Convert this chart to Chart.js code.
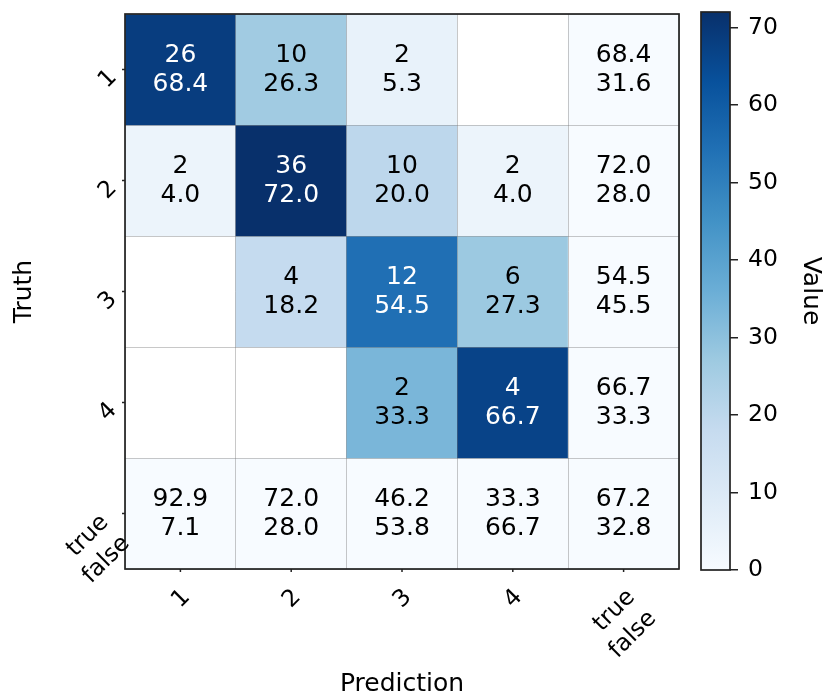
<!DOCTYPE html>
<html>
<head>
<meta charset="utf-8">
<script src="https://cdn.jsdelivr.net/npm/chart.js@4"></script>
<style>
  body { margin: 0; background: #fff; }
  #wrap { position: relative; width: 825px; height: 699px; }
  canvas { position: absolute; top: 0; }
  #matrixChart { left: 0; }
  #colorbarChart { left: 690px; }
</style>
</head>
<body>
<div id="wrap">
  <canvas id="matrixChart" width="825" height="699"></canvas>
  <canvas id="colorbarChart" width="135" height="699"></canvas>
</div>
<script>
// #### DATA ####
const predLabels = ['1', '2', '3', '4', ['true', 'false']];
const truthLabels = ['1', '2', '3', '4', ['true', 'false']];

// counts per truth row (null = empty cell)
const counts = [
    [26, 10, 2, null],
    [2, 36, 10, 2],
    [null, 4, 12, 6],
    [null, null, 2, 4]
];
// row percentages, also drive the colour
const rowPct = [
    [68.4, 26.3, 5.3, null],
    [4.0, 72.0, 20.0, 4.0],
    [null, 18.2, 54.5, 27.3],
    [null, null, 33.3, 66.7]
];
const rowTrueFalse = [[68.4, 31.6], [72.0, 28.0], [54.5, 45.5], [66.7, 33.3]];
const colTrueFalse = [[92.9, 7.1], [72.0, 28.0], [46.2, 53.8], [33.3, 66.7]];
const totalTrueFalse = [67.2, 32.8];

const cbRange = [0, 72];
const cbTicks = [0, 10, 20, 30, 40, 50, 60, 70];

// #### STYLE ####
const FONT = '"DejaVu Sans"';
const CELL_FONT = 25;
const TICK_FONT = 23.5;
const TITLE_FONT = 25;
const BLUES = ['#f7fbff', '#deebf7', '#c6dbef', '#9ecae1', '#6baed6', '#4292c6', '#2171b5', '#08519c', '#08306b'];

function hexRgb(h) {
    return [parseInt(h.slice(1, 3), 16), parseInt(h.slice(3, 5), 16), parseInt(h.slice(5, 7), 16)];
}

function blues(v) {
    let t = (v - cbRange[0]) / (cbRange[1] - cbRange[0]);
    t = Math.max(0, Math.min(1, t));
    let s = t * (BLUES.length - 1);
    let i = Math.min(Math.floor(s), BLUES.length - 2);
    let f = s - i;
    let a = hexRgb(BLUES[i]), b = hexRgb(BLUES[i + 1]);
    let c = a.map((x, k) => Math.round(x + (b[k] - x) * f));
    return `rgb(${c[0]},${c[1]},${c[2]})`;
}

// colour value of a cell: null = blank, summary cells sit at 0
let cellValue = (r, c) => {
    if (r < 4 && c < 4) return rowPct[r][c];
    return 0;
}

let cellLines = (r, c) => {
    if (r < 4 && c < 4) {
        if (counts[r][c] == null) return [];
        return [String(counts[r][c]), rowPct[r][c].toFixed(1)];
    }
    if (r < 4) return rowTrueFalse[r].map(v => v.toFixed(1));
    if (c < 4) return colTrueFalse[c].map(v => v.toFixed(1));
    return totalTrueFalse.map(v => v.toFixed(1));
}

// one dataset per truth row, each cell a floating bar [row, row+1]
let datasets = truthLabels.map((lab, r) => ({
    label: Array.isArray(lab) ? lab.join(' ') : lab,
    data: predLabels.map(() => [r, r + 1]),
    backgroundColor: predLabels.map((p, c) => {
        let v = cellValue(r, c);
        return v == null ? '#ffffff' : blues(v);
    }),
    borderWidth: 0,
    grouped: false,
    barPercentage: 1,
    categoryPercentage: 1
}));

// #### PLUGINS ####
const framePlugin = {
    id: 'frame',
    afterDraw(chart) {
        const {ctx, chartArea: a} = chart;
        ctx.save();
        ctx.strokeStyle = '#222';
        ctx.lineWidth = 1.7;
        ctx.strokeRect(a.left, a.top, a.right - a.left, a.bottom - a.top);
        ctx.restore();
    }
};

const cellTextPlugin = {
    id: 'cellText',
    afterDatasetsDraw(chart) {
        const {ctx} = chart;
        ctx.save();
        ctx.font = `${CELL_FONT}px ${FONT}`;
        ctx.textAlign = 'center';
        ctx.textBaseline = 'middle';
        chart.data.datasets.forEach((ds, r) => {
            chart.getDatasetMeta(r).data.forEach((el, c) => {
                let lines = cellLines(r, c);
                let v = cellValue(r, c);
                ctx.fillStyle = (v != null && v > (cbRange[1] / 2)) ? '#ffffff' : '#000000';
                let cy = (el.y + el.base) / 2;
                lines.forEach((t, i) => {
                    ctx.fillText(t, el.x, cy + (i - (lines.length - 1) / 2) * 29);
                });
            });
        });
        ctx.restore();
    }
};

let blockSize = (ctx, lab) => {
    let lines = Array.isArray(lab) ? lab : [lab];
    let w = Math.max(...lines.map(t => ctx.measureText(t).width));
    let h = (lines.length - 1) * 30 + 0.72 * TICK_FONT;
    return {lines, w, n: lines.length, rot: (w + h) * Math.SQRT1_2};
}

let drawRotated = (ctx, b, cx, cy) => {
    ctx.save();
    ctx.translate(cx, cy);
    ctx.rotate(-Math.PI / 4);
    ctx.textAlign = 'right';
    ctx.textBaseline = 'middle';
    b.lines.forEach((t, i) => {
        ctx.fillText(t, b.w / 2, (i - (b.n - 1) / 2) * 30 + 1);
    });
    ctx.restore();
}

// matplotlib-like 45 degree tick labels with short tick marks
const tickLabelPlugin = {
    id: 'tickLabels',
    afterDraw(chart) {
        const {ctx, chartArea: a, scales: {x, y}} = chart;
        ctx.save();
        ctx.font = `${TICK_FONT}px ${FONT}`;
        ctx.fillStyle = '#000';
        ctx.strokeStyle = '#222';
        ctx.lineWidth = 1.5;
        predLabels.forEach((lab, i) => {
            let px = x.getPixelForValue(i);
            ctx.beginPath();
            ctx.moveTo(px, a.bottom);
            ctx.lineTo(px, a.bottom + 3);
            ctx.stroke();
            let b = blockSize(ctx, lab);
            drawRotated(ctx, b, px - 2 * (b.n - 1), a.bottom + 18 + b.rot / 2);
        });
        truthLabels.forEach((lab, i) => {
            let py = y.getPixelForValue(i + 0.5);
            ctx.beginPath();
            ctx.moveTo(a.left, py);
            ctx.lineTo(a.left - 3, py);
            ctx.stroke();
            let b = blockSize(ctx, lab);
            drawRotated(ctx, b, a.left - 6.5 - b.rot / 2 + 13 * (b.n - 1), py + 9 + 26 * (b.n - 1));
        });
        ctx.restore();
    }
};

// #### MATRIX CHART ####
const gridColor = 'rgba(110,110,110,0.38)';

let matrixChart = new Chart(document.getElementById('matrixChart').getContext('2d'), {
    type: 'bar',
    data: {labels: predLabels, datasets: datasets},
    options: {
        responsive: false,
        animation: false,
        layout: {padding: {left: 0, top: 14, right: 146, bottom: 0}},
        plugins: {legend: {display: false}, tooltip: {enabled: false}},
        scales: {
            x: {
                type: 'category',
                offset: true,
                grid: {offset: true, color: gridColor, lineWidth: 1, drawTicks: false, z: 1},
                border: {display: false},
                ticks: {display: false},
                title: {display: true, text: 'Prediction', color: '#000',
                    font: {family: FONT, size: TITLE_FONT}, padding: {top: 0, bottom: 0}},
                afterFit: (s) => { s.height = 130; }
            },
            y: {
                type: 'linear',
                min: 0,
                max: truthLabels.length,
                reverse: true,
                grid: {color: gridColor, lineWidth: 1, drawTicks: false, z: 1},
                border: {display: false},
                ticks: {display: false, stepSize: 1},
                title: {display: true, text: 'Truth', color: '#000',
                    font: {family: FONT, size: TITLE_FONT}, padding: {top: 9, bottom: 0}},
                afterFit: (s) => { s.width = 125; }
            }
        }
    },
    plugins: [cellTextPlugin, framePlugin, tickLabelPlugin]
});

// #### COLORBAR ####
let colorbarChart = new Chart(document.getElementById('colorbarChart').getContext('2d'), {
    type: 'bar',
    data: {
        labels: [''],
        datasets: [{
            data: [cbRange],
            backgroundColor: (c) => {
                const {chart} = c;
                if (!chart.chartArea) return BLUES[0];
                const ys = chart.scales.y;
                let g = chart.ctx.createLinearGradient(0, ys.getPixelForValue(cbRange[0]), 0, ys.getPixelForValue(cbRange[1]));
                BLUES.forEach((col, i) => g.addColorStop(i / (BLUES.length - 1), col));
                return g;
            },
            borderWidth: 0,
            barPercentage: 1,
            categoryPercentage: 1
        }]
    },
    options: {
        responsive: false,
        animation: false,
        layout: {padding: {left: 11, top: 12, right: 0, bottom: 129}},
        plugins: {legend: {display: false}, tooltip: {enabled: false}},
        scales: {
            x: {display: false},
            y: {
                position: 'right',
                min: cbRange[0],
                max: cbRange[1],
                grid: {drawOnChartArea: false, drawTicks: true, tickLength: 8, color: '#222', lineWidth: 1.5},
                border: {display: false},
                ticks: {padding: 10, color: '#000', font: {family: FONT, size: TICK_FONT}},
                afterBuildTicks: (s) => { s.ticks = cbTicks.map(v => ({value: v})); },
                title: {display: true, text: 'Value', color: '#000',
                    font: {family: FONT, size: TITLE_FONT}, padding: {top: 0, bottom: 0}},
                afterFit: (s) => { s.width = 95; s.paddingTop = 0; s.paddingBottom = 0; }
            }
        }
    },
    plugins: [framePlugin]
});
</script>
</body>
</html>
